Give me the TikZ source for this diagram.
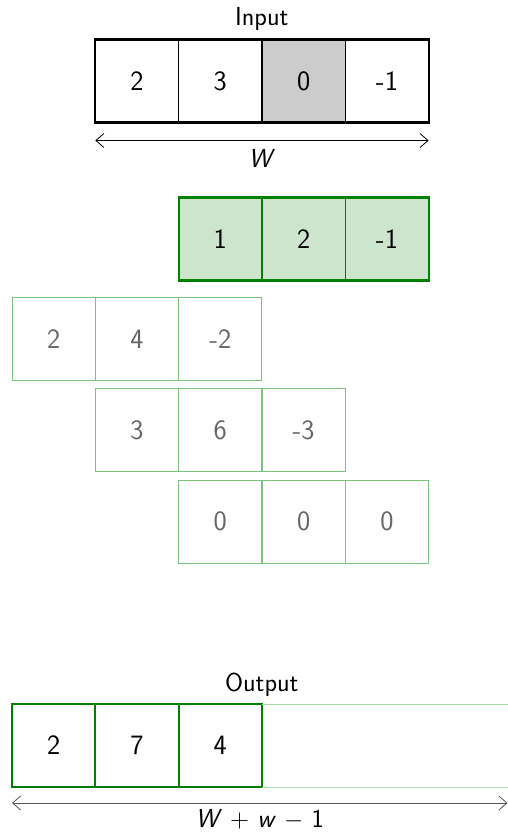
\documentclass[tikz,border=0pt]{standalone}
\usepackage{fontspec}
\usetikzlibrary{arrows.meta}
\definecolor{kgreen}{RGB}{0,128,0}
\definecolor{kfill}{RGB}{204,229,204}
\definecolor{lgreen}{RGB}{124,196,124}
\definecolor{vlgreen}{RGB}{170,220,170}
\definecolor{ptext}{RGB}{102,102,102}
\definecolor{arrowgray}{RGB}{85,85,85}
\begin{document}
\begin{tikzpicture}[x=1pt,y=-1pt,
  cell/.style={draw,minimum width=83.3pt,minimum height=83pt,inner sep=0pt,outer sep=0pt,anchor=north west,
    font=\sffamily\fontsize{28}{32}\selectfont},
  inp/.style={cell,draw=black,line width=0.9pt},
  kern/.style={cell,draw=kgreen,fill=kfill,line width=1.1pt},
  part/.style={cell,draw=lgreen,line width=0.9pt,text=ptext},
  outc/.style={cell,draw=kgreen,line width=2.2pt},
  lab/.style={font=\sffamily\fontsize{26}{30}\selectfont},
  dim/.style={{Straight Barb[length=8pt,width=14pt]}-{Straight Barb[length=8pt,width=14pt]},line width=0.8pt}
]
\useasboundingbox (0,0) rectangle (507,834);
% Input
\node[inp] (i1) at (95.3,39.5) {2};
\node[inp] (i2) at (178.6,39.5) {3};
\node[inp,fill=black!20] (i3) at (262,39.5) {0};
\node[inp] (i4) at (345.3,39.5) {-1};
\draw[line width=2.2pt] (i1.north west) rectangle (i4.south east);
\node[lab] (inlab) at (261.8,19.5) {Input};
\coordinate (wa) at ([yshift=-18pt]i1.south west);
\coordinate (wb) at ([yshift=-18pt]i4.south east);
\draw[dim] (wa) -- (wb);
\node[lab] (wlab) at (261.8,158) {\textsl{W}};
% Kernel
\node[kern] (k1) at (178.6,197.5) {1};
\node[kern] (k2) at (262,197.5) {2};
\node[kern] (k3) at (345.3,197.5) {-1};
\draw[kgreen,line width=2.2pt] (k1.north west) rectangle (k3.south east);
% Partial products
\node[part] (a1) at (12,297.5) {2};
\node[part] (a2) at (95.3,297.5) {4};
\node[part] (a3) at (178.6,297.5) {-2};
\node[part] (b1) at (95.3,388.5) {3};
\node[part] (b2) at (178.6,388.5) {6};
\node[part] (b3) at (262,388.5) {-3};
\node[part] (c1) at (178.6,480) {0};
\node[part] (c2) at (262,480) {0};
\node[part] (c3) at (345.3,480) {0};
% Output
\node[lab] (outlab) at (261.8,685) {Output};
\coordinate (oe1) at (520,704);
\coordinate (oe2) at (520,787);
\node[outc] (o1) at (12,704) {2};
\node[outc] (o2) at (95.3,704) {7};
\node[outc] (o3) at (178.6,704) {4};
\draw[vlgreen,line width=0.9pt] (o3.north east) -- (o3.north east -| oe1);
\draw[vlgreen,line width=0.9pt] (o3.south east) -- (o3.south east -| oe2);
\coordinate (la) at ([yshift=-16pt]o1.south west);
\coordinate (lb) at (507.5,0 |- la);
\draw[dim,arrowgray] (la) -- (lb);
\node[lab] (olab) at (259.7,820) {\textsl{W} + \textsl{w} $-$ 1};
\end{tikzpicture}
\end{document}
